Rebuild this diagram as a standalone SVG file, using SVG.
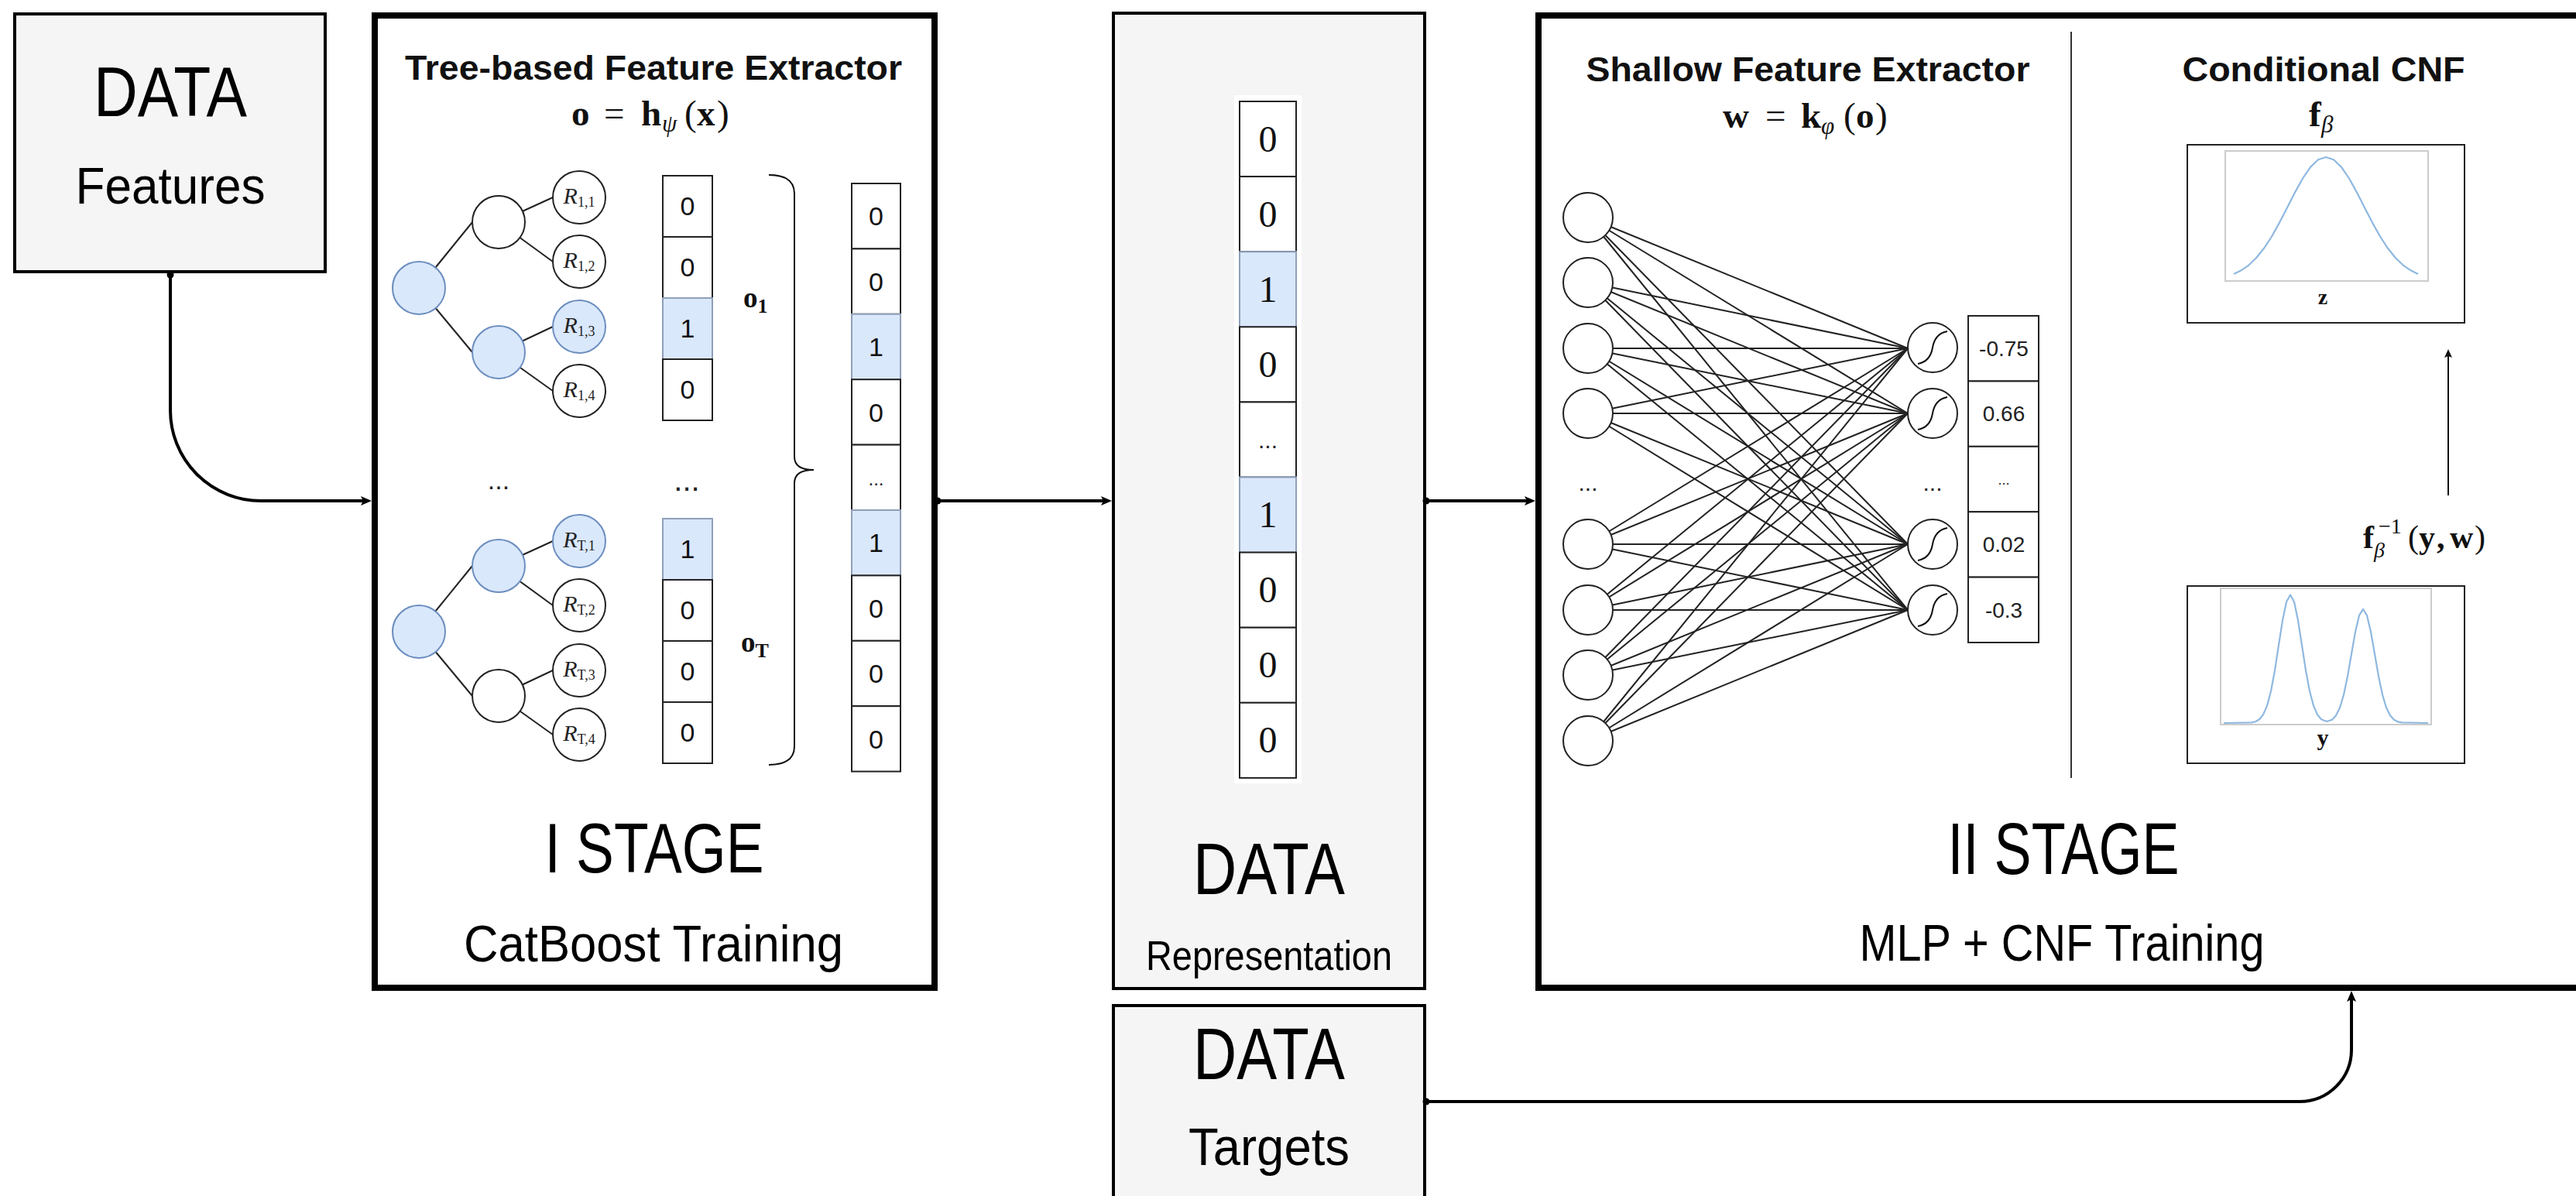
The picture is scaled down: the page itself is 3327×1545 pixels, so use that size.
<svg xmlns="http://www.w3.org/2000/svg" width="3327" height="1545" viewBox="0 0 3327 1545">
  <style>
    .gbox { fill: #f5f5f5; stroke: #000; stroke-width: 4; }
    .stage { fill: #fff; stroke: #000; stroke-width: 8; }
    .big { font-family: "Liberation Sans", Arial, sans-serif; text-anchor: middle; fill: #000; }
    .ttl { font-family: "Liberation Sans", Arial, sans-serif; font-weight: bold; font-size: 44px; text-anchor: middle; fill: #111; }
    .math { font-family: "Liberation Serif", "Times New Roman", serif; font-weight: bold; fill: #111; }
    .it { font-style: italic; font-weight: normal; }
    .reg { font-weight: normal; }
    .cell { fill: #fff; stroke: #222; stroke-width: 2; }
    .cell.on { fill: #dae8fc; stroke: #8f9fb8; }
    .dig { font-family: "Liberation Sans", Arial, sans-serif; font-size: 34px; text-anchor: middle; fill: #111; }
    .dig2 { font-family: "Liberation Serif", "Times New Roman", serif; font-size: 48px; text-anchor: middle; fill: #111; }
    .val { font-family: "Liberation Sans", Arial, sans-serif; font-size: 28px; text-anchor: middle; fill: #222; }
    .node { fill: #fff; stroke: #222; stroke-width: 2; }
    .node.on { fill: #dae8fc; stroke: #6c8ebf; }
    .edge { stroke: #222; stroke-width: 2; }
    .leaf { font-family: "Liberation Serif", "Times New Roman", serif; font-style: italic; font-size: 30px; text-anchor: middle; fill: #222; }
    .sub { font-size: 18px; font-style: normal; }
    .conn { fill: none; stroke: #000; stroke-width: 4; }
    .thin { fill: none; stroke: #111; stroke-width: 2; }
    .frame { fill: #fff; stroke: #ccc; stroke-width: 2; }
    .curve { fill: none; stroke: #8fb8e0; stroke-width: 2.2; stroke-linejoin: round; }
    .dots { font-family: "Liberation Sans", Arial, sans-serif; text-anchor: middle; fill: #222; }
  </style>
  <defs>
    <marker id="arr" markerUnits="userSpaceOnUse" markerWidth="16" markerHeight="14" refX="4" refY="7" orient="auto">
      <path d="M0,1 L14,7 L0,13 L3,7 z" fill="#000"/>
    </marker>
    <marker id="arrS" markerUnits="userSpaceOnUse" markerWidth="12" markerHeight="12" refX="3" refY="6" orient="auto">
      <path d="M0,1 L11,6 L0,11 L2,6 z" fill="#111"/>
    </marker>
    <marker id="dot" markerUnits="userSpaceOnUse" markerWidth="10" markerHeight="10" refX="5" refY="5">
      <circle cx="5" cy="5" r="4.5" fill="#000"/>
    </marker>
  </defs>

  <rect width="3327" height="1545" fill="#fff"/>

  <!-- input features -->
  <g id="data-features">
    <rect class="gbox" x="19" y="18" width="401" height="333"/>
    <text class="big" x="220" y="150" font-size="91" textLength="198" lengthAdjust="spacingAndGlyphs">DATA</text>
    <text class="big" x="220" y="263" font-size="67" textLength="245" lengthAdjust="spacingAndGlyphs">Features</text>
  </g>

  <!-- stage one: tree ensemble -->
  <g id="stage-1">
    <rect class="stage" x="484" y="20" width="723" height="1256"/>
    <text class="ttl" x="844" y="103" textLength="642" lengthAdjust="spacingAndGlyphs">Tree-based Feature Extractor</text>
    <text class="math" y="162" font-size="47"><tspan x="738">o</tspan><tspan x="780" class="reg">=</tspan><tspan x="828">h</tspan><tspan x="855" dy="8" font-size="31" class="it">ψ</tspan><tspan x="884" dy="-8" class="reg">(</tspan><tspan x="900">x</tspan><tspan x="926" class="reg">)</tspan></text>

    <!-- first tree -->
    <g id="tree-1">
      <line class="edge" x1="541" y1="372" x2="610" y2="287"/>
      <line class="edge" x1="541" y1="372" x2="610" y2="455"/>
      <line class="edge" x1="644" y1="287" x2="714" y2="255"/>
      <line class="edge" x1="644" y1="287" x2="714" y2="338"/>
      <line class="edge" x1="644" y1="455" x2="714" y2="422"/>
      <line class="edge" x1="644" y1="455" x2="714" y2="505"/>
      <circle class="node on" cx="541" cy="372" r="34"/>
      <circle class="node" cx="644" cy="287" r="34"/>
      <circle class="node on" cx="644" cy="455" r="34"/>
      <circle class="node" cx="748" cy="255" r="34"/>
      <circle class="node" cx="748" cy="338" r="34"/>
      <circle class="node on" cx="748" cy="422" r="34"/>
      <circle class="node" cx="748" cy="505" r="34"/>
      <text class="leaf" x="748" y="263">R<tspan class="sub" dy="4">1,1</tspan></text>
      <text class="leaf" x="748" y="346">R<tspan class="sub" dy="4">1,2</tspan></text>
      <text class="leaf" x="748" y="430">R<tspan class="sub" dy="4">1,3</tspan></text>
      <text class="leaf" x="748" y="513">R<tspan class="sub" dy="4">1,4</tspan></text>
    </g>
    <g id="leaf-vector-1">
      <rect class="cell" x="856" y="227" width="64" height="79"/>
      <rect class="cell" x="856" y="306" width="64" height="79"/>
      <rect class="cell on" x="856" y="385" width="64" height="79"/>
      <rect class="cell" x="856" y="464" width="64" height="79"/>
      <text class="dig" x="888" y="278">0</text>
      <text class="dig" x="888" y="357">0</text>
      <text class="dig" x="888" y="436">1</text>
      <text class="dig" x="888" y="515">0</text>
    </g>
    <text class="math" x="960" y="397" font-size="37">o<tspan font-size="26" dy="7">1</tspan></text>

    <text class="dots" x="644" y="632" font-size="34">...</text>
    <text class="dots" x="887" y="634" font-size="40">...</text>

    <!-- last tree -->
    <g id="tree-T">
      <line class="edge" x1="541" y1="816" x2="610" y2="731"/>
      <line class="edge" x1="541" y1="816" x2="610" y2="899"/>
      <line class="edge" x1="644" y1="731" x2="714" y2="699"/>
      <line class="edge" x1="644" y1="731" x2="714" y2="782"/>
      <line class="edge" x1="644" y1="899" x2="714" y2="866"/>
      <line class="edge" x1="644" y1="899" x2="714" y2="949"/>
      <circle class="node on" cx="541" cy="816" r="34"/>
      <circle class="node on" cx="644" cy="731" r="34"/>
      <circle class="node" cx="644" cy="899" r="34"/>
      <circle class="node on" cx="748" cy="699" r="34"/>
      <circle class="node" cx="748" cy="782" r="34"/>
      <circle class="node" cx="748" cy="866" r="34"/>
      <circle class="node" cx="748" cy="949" r="34"/>
      <text class="leaf" x="748" y="707">R<tspan class="sub" dy="4">T,1</tspan></text>
      <text class="leaf" x="748" y="790">R<tspan class="sub" dy="4">T,2</tspan></text>
      <text class="leaf" x="748" y="874">R<tspan class="sub" dy="4">T,3</tspan></text>
      <text class="leaf" x="748" y="957">R<tspan class="sub" dy="4">T,4</tspan></text>
    </g>
    <g id="leaf-vector-T">
      <rect class="cell on" x="856" y="670" width="64" height="79"/>
      <rect class="cell" x="856" y="749" width="64" height="79"/>
      <rect class="cell" x="856" y="828" width="64" height="79"/>
      <rect class="cell" x="856" y="907" width="64" height="79"/>
      <text class="dig" x="888" y="721">1</text>
      <text class="dig" x="888" y="800">0</text>
      <text class="dig" x="888" y="879">0</text>
      <text class="dig" x="888" y="958">0</text>
    </g>
    <text class="math" x="957" y="842" font-size="37">o<tspan font-size="26" dy="7">T</tspan></text>

    <!-- brace joining the leaf vectors -->
    <path class="thin" d="M993,226 Q1026,226 1026,250 V590 Q1026,607 1051,607 Q1026,607 1026,624 V964 Q1026,988 993,988"/>

    <g id="concat-vector">
      <rect class="cell" x="1100" y="237" width="63" height="84.4"/>
      <rect class="cell" x="1100" y="321.4" width="63" height="84.4"/>
      <rect class="cell on" x="1100" y="405.8" width="63" height="84.4"/>
      <rect class="cell" x="1100" y="490.2" width="63" height="84.4"/>
      <rect class="cell" x="1100" y="574.6" width="63" height="84.4"/>
      <rect class="cell on" x="1100" y="659" width="63" height="84.4"/>
      <rect class="cell" x="1100" y="743.4" width="63" height="84.4"/>
      <rect class="cell" x="1100" y="827.8" width="63" height="84.4"/>
      <rect class="cell" x="1100" y="912.2" width="63" height="84.4"/>
      <text class="dig" x="1131.5" y="291">0</text>
      <text class="dig" x="1131.5" y="375.5">0</text>
      <text class="dig" x="1131.5" y="460">1</text>
      <text class="dig" x="1131.5" y="544.5">0</text>
      <text class="dots" x="1131.5" y="627" font-size="24">...</text>
      <text class="dig" x="1131.5" y="713">1</text>
      <text class="dig" x="1131.5" y="797.5">0</text>
      <text class="dig" x="1131.5" y="882">0</text>
      <text class="dig" x="1131.5" y="966.5">0</text>
    </g>

    <text class="big" x="845" y="1127" font-size="91" textLength="283" lengthAdjust="spacingAndGlyphs">I STAGE</text>
    <text class="big" x="844" y="1242" font-size="67" textLength="490" lengthAdjust="spacingAndGlyphs">CatBoost Training</text>
  </g>

  <!-- learned representation -->
  <g id="data-representation">
    <rect class="gbox" x="1438" y="17" width="402" height="1260"/>
    <rect x="1594" y="123" width="87" height="889" fill="#fff"/>
    <rect class="cell" x="1601" y="131" width="73" height="97.1"/>
    <rect class="cell" x="1601" y="228.1" width="73" height="97.1"/>
    <rect class="cell on" x="1601" y="325.2" width="73" height="97.1"/>
    <rect class="cell" x="1601" y="422.3" width="73" height="97.1"/>
    <rect class="cell" x="1601" y="519.4" width="73" height="97.1"/>
    <rect class="cell on" x="1601" y="616.5" width="73" height="97.1"/>
    <rect class="cell" x="1601" y="713.6" width="73" height="97.1"/>
    <rect class="cell" x="1601" y="810.7" width="73" height="97.1"/>
    <rect class="cell" x="1601" y="907.8" width="73" height="97.1"/>
    <text class="dig2" x="1637.5" y="196">0</text>
    <text class="dig2" x="1637.5" y="293">0</text>
    <text class="dig2" x="1637.5" y="390">1</text>
    <text class="dig2" x="1637.5" y="487">0</text>
    <text class="dots" x="1637.5" y="579" font-size="30">...</text>
    <text class="dig2" x="1637.5" y="681">1</text>
    <text class="dig2" x="1637.5" y="778">0</text>
    <text class="dig2" x="1637.5" y="875">0</text>
    <text class="dig2" x="1637.5" y="972">0</text>
    <text class="big" x="1639" y="1155" font-size="95" textLength="196" lengthAdjust="spacingAndGlyphs">DATA</text>
    <text class="big" x="1639" y="1253" font-size="54" textLength="318" lengthAdjust="spacingAndGlyphs">Representation</text>
  </g>

  <!-- targets -->
  <g id="data-targets">
    <rect class="gbox" x="1438" y="1299" width="402" height="300"/>
    <text class="big" x="1639" y="1394" font-size="95" textLength="196" lengthAdjust="spacingAndGlyphs">DATA</text>
    <text class="big" x="1639" y="1505" font-size="68" textLength="208" lengthAdjust="spacingAndGlyphs">Targets</text>
  </g>

  <!-- stage two: MLP + conditional flow -->
  <g id="stage-2">
    <rect class="stage" x="1987" y="20" width="1400" height="1256"/>
    <line x1="2675" y1="41" x2="2675" y2="1005" stroke="#333" stroke-width="2"/>

    <text class="ttl" x="2335" y="105" textLength="573" lengthAdjust="spacingAndGlyphs">Shallow Feature Extractor</text>
    <text class="math" y="165" font-size="47"><tspan x="2225">w</tspan><tspan x="2280" class="reg">=</tspan><tspan x="2326">k</tspan><tspan x="2352" dy="8" font-size="31" class="it">φ</tspan><tspan x="2381" dy="-8" class="reg">(</tspan><tspan x="2397">o</tspan><tspan x="2422" class="reg">)</tspan></text>

    <g id="mlp">
      <g id="weights">
        <line class="edge" x1="2051" y1="281" x2="2464" y2="450"/><line class="edge" x1="2051" y1="281" x2="2464" y2="534"/><line class="edge" x1="2051" y1="281" x2="2464" y2="703"/><line class="edge" x1="2051" y1="281" x2="2464" y2="788"/>
        <line class="edge" x1="2051" y1="365" x2="2464" y2="450"/><line class="edge" x1="2051" y1="365" x2="2464" y2="534"/><line class="edge" x1="2051" y1="365" x2="2464" y2="703"/><line class="edge" x1="2051" y1="365" x2="2464" y2="788"/>
        <line class="edge" x1="2051" y1="450" x2="2464" y2="450"/><line class="edge" x1="2051" y1="450" x2="2464" y2="534"/><line class="edge" x1="2051" y1="450" x2="2464" y2="703"/><line class="edge" x1="2051" y1="450" x2="2464" y2="788"/>
        <line class="edge" x1="2051" y1="534" x2="2464" y2="450"/><line class="edge" x1="2051" y1="534" x2="2464" y2="534"/><line class="edge" x1="2051" y1="534" x2="2464" y2="703"/><line class="edge" x1="2051" y1="534" x2="2464" y2="788"/>
        <line class="edge" x1="2051" y1="703" x2="2464" y2="450"/><line class="edge" x1="2051" y1="703" x2="2464" y2="534"/><line class="edge" x1="2051" y1="703" x2="2464" y2="703"/><line class="edge" x1="2051" y1="703" x2="2464" y2="788"/>
        <line class="edge" x1="2051" y1="788" x2="2464" y2="450"/><line class="edge" x1="2051" y1="788" x2="2464" y2="534"/><line class="edge" x1="2051" y1="788" x2="2464" y2="703"/><line class="edge" x1="2051" y1="788" x2="2464" y2="788"/>
        <line class="edge" x1="2051" y1="872" x2="2464" y2="450"/><line class="edge" x1="2051" y1="872" x2="2464" y2="534"/><line class="edge" x1="2051" y1="872" x2="2464" y2="703"/><line class="edge" x1="2051" y1="872" x2="2464" y2="788"/>
        <line class="edge" x1="2051" y1="957" x2="2464" y2="450"/><line class="edge" x1="2051" y1="957" x2="2464" y2="534"/><line class="edge" x1="2051" y1="957" x2="2464" y2="703"/><line class="edge" x1="2051" y1="957" x2="2464" y2="788"/>
      </g>
      <g id="inputs">
        <circle class="node" cx="2051" cy="281" r="32"/>
        <circle class="node" cx="2051" cy="365" r="32"/>
        <circle class="node" cx="2051" cy="450" r="32"/>
        <circle class="node" cx="2051" cy="534" r="32"/>
        <text class="dots" x="2051" y="634" font-size="30">...</text>
        <circle class="node" cx="2051" cy="703" r="32"/>
        <circle class="node" cx="2051" cy="788" r="32"/>
        <circle class="node" cx="2051" cy="872" r="32"/>
        <circle class="node" cx="2051" cy="957" r="32"/>
      </g>
      <g id="outputs">
        <circle class="node" cx="2496" cy="449" r="32"/>
        <path class="thin" d="M2477,470 Q2493,467 2496,449 T2515,428"/>
        <circle class="node" cx="2496" cy="534" r="32"/>
        <path class="thin" d="M2477,555 Q2493,552 2496,534 T2515,513"/>
        <text class="dots" x="2496" y="634" font-size="30">...</text>
        <circle class="node" cx="2496" cy="703" r="32"/>
        <path class="thin" d="M2477,724 Q2493,721 2496,703 T2515,682"/>
        <circle class="node" cx="2496" cy="788" r="32"/>
        <path class="thin" d="M2477,809 Q2493,806 2496,788 T2515,767"/>
      </g>
      <g id="embedding">
        <rect class="cell" x="2542" y="408" width="91" height="84.4"/>
        <rect class="cell" x="2542" y="492.4" width="91" height="84.4"/>
        <rect class="cell" x="2542" y="576.8" width="91" height="84.4"/>
        <rect class="cell" x="2542" y="661.2" width="91" height="84.4"/>
        <rect class="cell" x="2542" y="745.6" width="91" height="84.4"/>
        <text class="val" x="2588" y="460">-0.75</text>
        <text class="val" x="2588" y="544">0.66</text>
        <text class="dots" x="2588" y="626" font-size="18">...</text>
        <text class="val" x="2588" y="713">0.02</text>
        <text class="val" x="2588" y="798">-0.3</text>
      </g>
    </g>

    <text class="ttl" x="3001" y="105" textLength="365" lengthAdjust="spacingAndGlyphs">Conditional CNF</text>
    <text class="math" y="163" font-size="47"><tspan x="2982">f</tspan><tspan x="2998" dy="8" font-size="31" class="it">β</tspan></text>

    <g id="base-density">
      <rect x="2825" y="187" width="358" height="230" fill="#fff" stroke="#222" stroke-width="2"/>
      <rect class="frame" x="2874" y="195" width="262" height="168"/>
      <polyline class="curve" points="2885,354 2894,349.6 2904,342.8 2914,333.2 2924,320.8 2934,305.5 2944,287.6 2954,268.2 2964,248.6 2974,230.5 2984,215.9 2994,206.3 3004,203 3014,206.3 3024,215.9 3034,230.5 3044,248.6 3054,268.2 3064,287.6 3074,305.5 3084,320.8 3094,333.2 3104,342.8 3114,349.6 3123,354"/>
      <text class="math" x="3000" y="393" font-size="28" text-anchor="middle">z</text>
    </g>

    <line x1="3162" y1="640" x2="3162" y2="459" stroke="#111" stroke-width="2" marker-end="url(#arrS)"/>
    <text class="math" y="708" font-size="42"><tspan x="3052">f</tspan><tspan x="3066" dy="12" font-size="28" class="it">β</tspan><tspan x="3072" dy="-31" font-size="28" class="reg">−1</tspan><tspan x="3110" dy="19" class="reg">(</tspan><tspan x="3124">y</tspan><tspan x="3147">,</tspan><tspan x="3164">w</tspan><tspan x="3196" class="reg">)</tspan></text>

    <g id="target-density">
      <rect x="2825" y="757" width="358" height="229" fill="#fff" stroke="#222" stroke-width="2"/>
      <rect class="frame" x="2868" y="760" width="272" height="176"/>
      <polyline class="curve" points="2872,934 2908,933.4 2913,932.2 2918,929.3 2923,923.1 2928,911.6 2933,892.7 2938,866 2943,833.6 2948,801.5 2953,777.5 2958,768.5 2963,777.5 2968,801.5 2973,833.6 2978,866 2983,892.7 2988,911.6 2993,923.1 2998,929.3 3005,932 3012,929.8 3017,924.3 3022,914.2 3027,897.4 3032,873.6 3037,844.8 3042,816.2 3047,794.9 3052,787 3057,794.9 3062,816.2 3067,844.8 3072,873.6 3077,897.4 3082,914.2 3087,924.3 3092,929.8 3097,932.4 3102,933.4 3136,934"/>
      <text class="math" x="3000" y="963" font-size="30" text-anchor="middle">y</text>
    </g>

    <text class="big" x="2665" y="1129" font-size="94" textLength="299" lengthAdjust="spacingAndGlyphs">II STAGE</text>
    <text class="big" x="2663" y="1241" font-size="67" textLength="523" lengthAdjust="spacingAndGlyphs">MLP + CNF Training</text>
  </g>

  <!-- flow between blocks -->
  <g id="connectors">
    <path class="conn" d="M220,355 V530 A117,117 0 0 0 337,647 H470" marker-start="url(#dot)" marker-end="url(#arr)"/>
    <path class="conn" d="M1211,647 H1426" marker-start="url(#dot)" marker-end="url(#arr)"/>
    <path class="conn" d="M1842,647 H1973" marker-start="url(#dot)" marker-end="url(#arr)"/>
    <path class="conn" d="M1842,1423 H2970 A67,67 0 0 0 3037,1356 V1290" marker-start="url(#dot)" marker-end="url(#arr)"/>
  </g>
</svg>
